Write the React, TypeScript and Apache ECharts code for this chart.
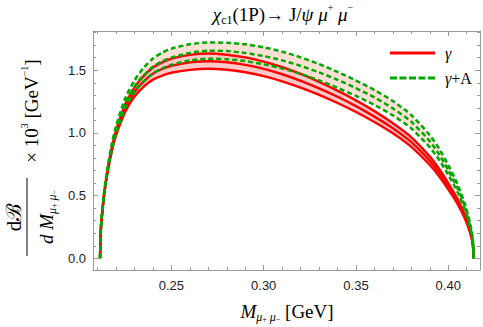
import React, { useEffect, useRef } from 'react';
import * as echarts from 'echarts';

// invariant mass of the muon pair [GeV]
const massGeV = [
  0.2113, 0.2118, 0.2125, 0.2135, 0.215, 0.2175, 0.22, 0.225, 0.23, 0.235, 0.24, 0.245, 0.25,
  0.26, 0.27, 0.28, 0.29, 0.30, 0.31, 0.32, 0.33, 0.34, 0.35, 0.36, 0.37, 0.38, 0.39,
  0.395, 0.40, 0.405, 0.409, 0.412, 0.4133, 0.4138,
];
// γ only (photon pole) : lower / central / upper curves
const gammaLower = [
  0, 0.24, 0.36, 0.5, 0.65, 0.84, 0.98, 1.17, 1.29, 1.37, 1.425, 1.458, 1.48,
  1.503, 1.512, 1.504, 1.484, 1.453, 1.412, 1.362, 1.304, 1.239, 1.167, 1.087, 0.997, 0.889, 0.744,
  0.655, 0.55, 0.435, 0.318, 0.197, 0.109, 0,
];
const gammaCentral = [
  0, 0.242, 0.364, 0.506, 0.66, 0.855, 1.0, 1.199, 1.326, 1.412, 1.473, 1.51, 1.536,
  1.563, 1.572, 1.564, 1.543, 1.511, 1.468, 1.416, 1.356, 1.289, 1.214, 1.13, 1.037, 0.926, 0.777,
  0.684, 0.575, 0.455, 0.332, 0.206, 0.114, 0,
];
const gammaUpper = [
  0, 0.245, 0.368, 0.513, 0.67, 0.87, 1.019, 1.229, 1.362, 1.455, 1.522, 1.563, 1.592,
  1.623, 1.633, 1.624, 1.603, 1.569, 1.525, 1.471, 1.408, 1.338, 1.26, 1.174, 1.077, 0.965, 0.811,
  0.714, 0.6, 0.474, 0.347, 0.215, 0.119, 0,
];
// γ + A : lower / central / upper curves
const gammaALower = [
  0, 0.242, 0.364, 0.506, 0.66, 0.855, 1.0, 1.199, 1.326, 1.412, 1.475, 1.515, 1.544,
  1.578, 1.592, 1.588, 1.573, 1.547, 1.514, 1.471, 1.419, 1.36, 1.295, 1.223, 1.14, 1.036, 0.885,
  0.786, 0.666, 0.529, 0.388, 0.24, 0.133, 0,
];
const gammaACentral = [
  0, 0.246, 0.37, 0.515, 0.673, 0.874, 1.024, 1.234, 1.37, 1.46, 1.528, 1.572, 1.601,
  1.638, 1.656, 1.653, 1.638, 1.613, 1.579, 1.535, 1.483, 1.424, 1.357, 1.283, 1.196, 1.089, 0.934,
  0.831, 0.704, 0.56, 0.411, 0.255, 0.141, 0,
];
const gammaAUpper = [
  0, 0.25, 0.376, 0.525, 0.689, 0.899, 1.054, 1.278, 1.419, 1.521, 1.593, 1.64, 1.672,
  1.707, 1.721, 1.719, 1.707, 1.683, 1.648, 1.603, 1.549, 1.487, 1.418, 1.342, 1.254, 1.142, 0.982,
  0.876, 0.743, 0.592, 0.434, 0.269, 0.149, 0,
];
const legendNames = ['γ', 'γ+A'];

const SERIF = '"Liberation Serif", "DejaVu Serif", serif';
const SANS = '"Liberation Sans", Arial, sans-serif';
const RED = '#ff0000';
const GREEN = '#00a800';
const FRAME = '#9a9a9a';
const DASH_ICON = 'path://M0,0h7v3h-7zM9.5,0h7v3h-7zM19,0h7v3h-7zM28.5,0h7v3h-7zM38,0h7v3h-7z';

const pairs = (ys: number[]) => massGeV.map((x, i) => [x, ys[i]]);

function serifRich(size: number) {
  return {
    i: { fontFamily: SERIF, fontStyle: 'italic', fontSize: size, lineHeight: size + 5, fill: '#000', color: '#000' },
    r: { fontFamily: SERIF, fontSize: size, lineHeight: size + 5, fill: '#000', color: '#000' },
    sub: { fontFamily: SERIF, fontSize: Math.round(size * 0.65), lineHeight: Math.round(size * 0.65) + 2, verticalAlign: 'bottom', fill: '#000', color: '#000' },
    subi: { fontFamily: SERIF, fontStyle: 'italic', fontSize: Math.round(size * 0.65), lineHeight: Math.round(size * 0.65) + 2, verticalAlign: 'bottom', fill: '#000', color: '#000' },
    sup: { fontFamily: SERIF, fontSize: Math.round(size * 0.55), lineHeight: Math.round(size * 0.55) + 2, verticalAlign: 'top', fill: '#000', color: '#000' },
    ssup: { fontFamily: SERIF, fontSize: Math.round(size * 0.42), lineHeight: size, verticalAlign: 'bottom', fill: '#000', color: '#000' },
  };
}

function axisX(position: 'bottom' | 'top', labels: boolean) {
  return {
    type: 'value', position, min: 0.2075, max: 0.4172, splitNumber: 5,
    axisLine: { show: true, onZero: false, lineStyle: { color: FRAME, width: 1 } },
    axisTick: { show: true, inside: true, length: 5, lineStyle: { color: FRAME } },
    minorTick: { show: true, splitNumber: 5, length: 3, lineStyle: { color: FRAME } },
    splitLine: { show: false },
    axisLabel: {
      show: labels, showMinLabel: false, showMaxLabel: false, margin: 9,
      fontFamily: SANS, fontSize: 13, color: '#222',
      formatter: (v: number) => v.toFixed(2),
    },
  };
}
function axisY(position: 'left' | 'right', labels: boolean) {
  return {
    type: 'value', position, min: -0.093, max: 1.813, splitNumber: 4,
    axisLine: { show: true, onZero: false, lineStyle: { color: FRAME, width: 1 } },
    axisTick: { show: true, inside: true, length: 5, lineStyle: { color: FRAME } },
    minorTick: { show: true, splitNumber: 5, length: 3, lineStyle: { color: FRAME } },
    splitLine: { show: false },
    axisLabel: {
      show: labels, showMinLabel: false, showMaxLabel: false, margin: 7,
      fontFamily: SANS, fontSize: 13, color: '#222',
      formatter: (v: number) => v.toFixed(1),
    },
  };
}

function band(name: string, lo: number[], hi: number[], fill: string) {
  return {
    type: 'custom', name, silent: true, clip: true,
    data: massGeV.map((x, i) => [x, lo[i], hi[i]]),
    encode: { x: 0, y: [1, 2] },
    renderItem: (params: any, api: any) => {
      if (params.dataIndex !== 0) return null;
      const top = massGeV.map((x, i) => api.coord([x, hi[i]]));
      const bottom = massGeV.map((x, i) => api.coord([x, lo[i]])).reverse();
      return {
        type: 'polygon', silent: true,
        shape: { points: top.concat(bottom) },
        style: { fill, stroke: 'none' },
      };
    },
  };
}

export default function App() {
  const ref = useRef<HTMLDivElement>(null);
  useEffect(() => {
    if (!ref.current) return;
    const chart = echarts.init(ref.current, undefined, { renderer: 'svg' });
    const smooth = 0.25;
    const line = (name: string, ys: number[], color: string, dashed: boolean) => ({
      type: 'line', name, data: pairs(ys), symbol: 'none', smooth,
      lineStyle: { color, width: dashed ? 2.5 : 2.4, type: dashed ? [5, 3] : 'solid', cap: 'butt' },
      itemStyle: { color, borderWidth: 0 }, silent: true,
    });
    const rt = serifRich(19);
    const tt = serifRich(19);
    chart.setOption({
      animation: false,
      grid: { left: 93, right: 3, top: 31, bottom: 57 },
      xAxis: [axisX('bottom', true), axisX('top', false)],
      yAxis: [axisY('left', true), axisY('right', false)],
      legend: {
        data: [
          { name: legendNames[0], icon: 'rect' },
          { name: legendNames[1], icon: DASH_ICON },
        ],
        orient: 'vertical', left: 385, top: 39, itemWidth: 45, itemHeight: 3, itemGap: 7,
        selectedMode: false,
        itemStyle: { borderWidth: 0 },
        lineStyle: { width: 0 },
        textStyle: {
          fontFamily: SERIF, fontSize: 16, color: '#000', lineHeight: 18,
          rich: {
            i: { fontFamily: SERIF, fontStyle: 'italic', fontSize: 16, lineHeight: 18, color: '#000', padding: [0, 0, 0, 5] },
            r: { fontFamily: SERIF, fontSize: 16, lineHeight: 18, color: '#000' },
          },
        },
        formatter: (n: string) => (n === 'γ' ? '{i|γ}' : '{i|γ}{r|+A}'),
      },
      series: [
        band('γ+A band', gammaALower, gammaAUpper, '#fcdfd5'),
        band('γ band', gammaLower, gammaUpper, '#ffc9c9'),
        line(legendNames[0], gammaLower, RED, false),
        line('γ central', gammaCentral, RED, false),
        line('γ upper', gammaUpper, RED, false),
        line(legendNames[1], gammaALower, GREEN, true),
        line('γ+A central', gammaACentral, GREEN, true),
        line('γ+A upper', gammaAUpper, GREEN, true),
      ],
      graphic: [
        {
          type: 'text', x: 283, y: 14,
          style: {
            text: '{i|χ}{sub|c1}{r|(1P)→ J/}{i|ψ}{r| }{i|μ}{sup|+}{r| }{i|μ}{sup|−}',
            rich: tt, align: 'center', verticalAlign: 'middle', textAlign: 'center', textVerticalAlign: 'middle',
          },
        },
        {
          type: 'text', x: 287, y: 311,
          style: {
            text: '{i|M}{subi|μ}{ssup|+}{subi| μ}{ssup|−}{r| [GeV]}',
            rich: rt, align: 'center', verticalAlign: 'middle', textAlign: 'center', textVerticalAlign: 'middle',
          },
        },
        {
          type: 'text', x: 14, y: 217, rotation: Math.PI / 2,
          style: {
            text: '{r|dℬ}', rich: serifRich(21),
            align: 'center', verticalAlign: 'middle', textAlign: 'center', textVerticalAlign: 'middle',
          },
        },
        {
          type: 'line', shape: { x1: 27, y1: 178, x2: 27, y2: 256 }, style: { stroke: '#000', lineWidth: 1 },
        },
        {
          type: 'text', x: 46, y: 217, rotation: Math.PI / 2,
          style: {
            text: '{i|d M}{subi|μ}{ssup|+}{subi| μ}{ssup|−}', rich: rt,
            align: 'center', verticalAlign: 'middle', textAlign: 'center', textVerticalAlign: 'middle',
          },
        },
        {
          type: 'text', x: 31, y: 111, rotation: Math.PI / 2,
          style: {
            text: '{r|× 10}{sup|3}{r| [GeV}{sup|−1}{r|]}', rich: rt,
            align: 'center', verticalAlign: 'middle', textAlign: 'center', textVerticalAlign: 'middle',
          },
        },
      ],
    });
    return () => chart.dispose();
  }, []);
  return <div ref={ref} style={{ position: 'absolute', left: 0, top: 0, width: 483, height: 327 }} />;
}
